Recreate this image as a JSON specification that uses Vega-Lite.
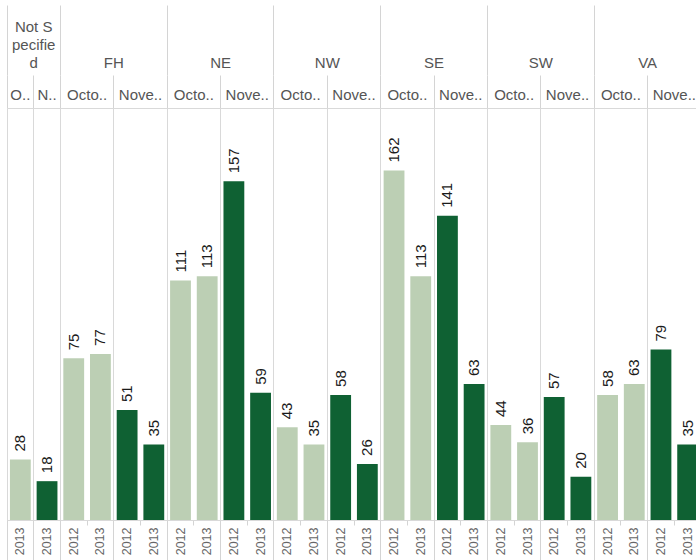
{
  "$schema": "https://vega.github.io/schema/vega-lite/v6.json",
  "autosize": {"type": "none"},
  "width": 689,
  "height": 412,
  "padding": {"left": 7, "top": 108, "right": 0, "bottom": 40},
  "config": {"view": {"stroke": null}, "font": "Liberation Sans"},
  "data": {"values": [
    {"region": "Not Specified", "month": "October", "year": "2013", "value": 28},
    {"region": "Not Specified", "month": "November", "year": "2013", "value": 18},
    {"region": "FH", "month": "October", "year": "2012", "value": 75},
    {"region": "FH", "month": "October", "year": "2013", "value": 77},
    {"region": "FH", "month": "November", "year": "2012", "value": 51},
    {"region": "FH", "month": "November", "year": "2013", "value": 35},
    {"region": "NE", "month": "October", "year": "2012", "value": 111},
    {"region": "NE", "month": "October", "year": "2013", "value": 113},
    {"region": "NE", "month": "November", "year": "2012", "value": 157},
    {"region": "NE", "month": "November", "year": "2013", "value": 59},
    {"region": "NW", "month": "October", "year": "2012", "value": 43},
    {"region": "NW", "month": "October", "year": "2013", "value": 35},
    {"region": "NW", "month": "November", "year": "2012", "value": 58},
    {"region": "NW", "month": "November", "year": "2013", "value": 26},
    {"region": "SE", "month": "October", "year": "2012", "value": 162},
    {"region": "SE", "month": "October", "year": "2013", "value": 113},
    {"region": "SE", "month": "November", "year": "2012", "value": 141},
    {"region": "SE", "month": "November", "year": "2013", "value": 63},
    {"region": "SW", "month": "October", "year": "2012", "value": 44},
    {"region": "SW", "month": "October", "year": "2013", "value": 36},
    {"region": "SW", "month": "November", "year": "2012", "value": 57},
    {"region": "SW", "month": "November", "year": "2013", "value": 20},
    {"region": "VA", "month": "October", "year": "2012", "value": 58},
    {"region": "VA", "month": "October", "year": "2013", "value": 63},
    {"region": "VA", "month": "November", "year": "2012", "value": 79},
    {"region": "VA", "month": "November", "year": "2013", "value": 35}
  ]},
  "transform": [
    {"calculate": "datum.region + '|' + datum.month + '|' + datum.year", "as": "key"}
  ],
  "resolve": {"axis": {"x": "independent"}},
  "layer": [
    {
      "mark": {"type": "bar", "width": {"band": 0.78}},
      "encoding": {
        "x": {
          "field": "key", "type": "nominal", "sort": null,
          "scale": {"range": [0, 694], "paddingInner": 0, "paddingOuter": 0},
          "axis": {
            "orient": "bottom", "title": null, "bandPosition": 0,
            "labelExpr": "split(datum.value, '|')[2]",
            "labelAngle": 270, "labelAlign": "right", "labelBaseline": "middle",
            "labelOffset": 0, "labelPadding": 2,
            "labelFontSize": 12.5, "labelColor": "#666666",
            "labelOverlap": false, "labelBound": false, "labelFlush": false,
            "tickSize": 5, "tickColor": "#d4d4d4",
            "domainColor": "#d9d9d9",
            "grid": true, "gridColor": "#d9d9d9",
            "gridOpacity": {"condition": {"test": "split(datum.value, '|')[2] == '2012' || split(datum.value, '|')[0] == 'Not Specified'", "value": 1}, "value": 0}
          }
        },
        "y": {"field": "value", "type": "quantitative", "scale": {"domain": [0, 191], "nice": false}, "axis": null},
        "color": {
          "field": "month", "type": "nominal",
          "scale": {"domain": ["October", "November"], "range": ["#bccfb4", "#0f6133"]},
          "legend": null
        }
      }
    },
    {
      "mark": {"type": "text", "angle": 270, "align": "left", "baseline": "middle", "dx": 8, "fontSize": 15, "color": "#1a1a1a"},
      "encoding": {
        "x": {"field": "key", "type": "nominal", "sort": null, "axis": null},
        "y": {"field": "value", "type": "quantitative", "axis": null},
        "text": {"field": "value", "type": "quantitative"}
      }
    },
    {
      "mark": {"type": "tick", "opacity": 0},
      "encoding": {
        "x": {
          "field": "key", "type": "nominal", "sort": null,
          "axis": {
            "orient": "bottom", "title": null, "bandPosition": 0,
            "labels": false, "domain": false, "grid": false,
            "tickSize": 40, "tickColor": "#d4d4d4",
            "tickOpacity": {"condition": {"test": "split(datum.value, '|')[2] == '2012' || split(datum.value, '|')[0] == 'Not Specified'", "value": 1}, "value": 0}
          }
        }
      }
    },
    {
      "mark": {"type": "tick", "opacity": 0},
      "encoding": {
        "x": {
          "field": "key", "type": "nominal", "sort": null,
          "axis": {
            "orient": "top", "title": null, "bandPosition": 0, "grid": false,
            "domainColor": "#d9d9d9",
            "labelExpr": "split(datum.value, '|')[0] == 'Not Specified' ? (split(datum.value, '|')[1] == 'October' ? 'O..' : 'N..') : (split(datum.value, '|')[2] == '2012' ? (split(datum.value, '|')[1] == 'October' ? 'Octo..' : 'Nove..') : '')",
            "labelAngle": 0, "labelAlign": "center", "labelBaseline": "bottom",
            "labelOffset": {"condition": {"test": "split(datum.value, '|')[0] == 'Not Specified'", "value": 0}, "value": 13.35},
            "labelPadding": -27,
            "labelFontSize": 15, "labelColor": "#555555",
            "labelOverlap": false, "labelBound": false, "labelFlush": false,
            "tickSize": 33, "tickColor": "#d4d4d4",
            "tickOpacity": {"condition": {"test": "split(datum.value, '|')[2] == '2012' || split(datum.value, '|')[0] == 'Not Specified'", "value": 1}, "value": 0}
          }
        }
      }
    },
    {
      "mark": {"type": "tick", "opacity": 0},
      "encoding": {
        "x": {
          "field": "key", "type": "nominal", "sort": null,
          "axis": {
            "orient": "top", "offset": 33, "title": null, "bandPosition": 0, "grid": false,
            "domain": false,
            "labelExpr": "datum.value == 'Not Specified|October|2013' ? ['Not S', 'pecifie', 'd'] : (split(datum.value, '|')[1] == 'October' && split(datum.value, '|')[2] == '2012' ? split(datum.value, '|')[0] : '')",
            "labelAngle": 0, "labelAlign": "center", "labelBaseline": "bottom",
            "labelOffset": {"condition": {"test": "split(datum.value, '|')[0] == 'Not Specified'", "value": 13.35}, "value": 40.05},
            "labelPadding": {"condition": {"test": "split(datum.value, '|')[0] == 'Not Specified'", "value": -29}, "value": -65},
            "labelLineHeight": 18,
            "labelFontSize": 15, "labelColor": "#555555",
            "labelOverlap": false, "labelBound": false, "labelFlush": false,
            "tickSize": 70, "tickColor": "#d4d4d4",
            "tickOpacity": {"condition": {"test": "(split(datum.value, '|')[1] == 'October' && split(datum.value, '|')[2] == '2012') || datum.value == 'Not Specified|October|2013'", "value": 1}, "value": 0}
          }
        }
      }
    }
  ]
}
